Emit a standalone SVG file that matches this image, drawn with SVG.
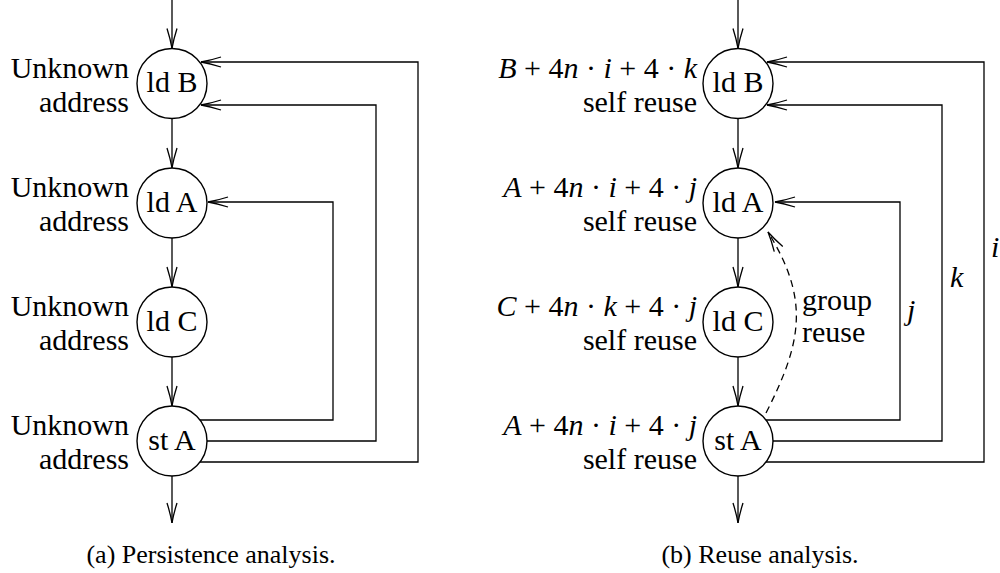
<svg xmlns="http://www.w3.org/2000/svg" width="1000" height="573" viewBox="0 0 1000 573" font-family="'Liberation Serif', 'Times New Roman', serif">
<style>
text{font-family:"Liberation Serif","Times New Roman",serif;fill:#000}
.lbl{font-size:30px;text-anchor:end}
.nt{font-size:30px;text-anchor:middle}
.tx{font-size:30px}
.cap{font-size:26px;text-anchor:middle}
.m{font-style:italic}
.node circle{fill:#fff;stroke:#000;stroke-width:1.4}
.conn path{fill:none;stroke:#000;stroke-width:1.3}
.conn .dash{stroke-dasharray:7 5}
</style>
<defs>
<marker id="arr" viewBox="0 0 22 12" refX="21" refY="6" markerWidth="22" markerHeight="12" markerUnits="userSpaceOnUse" orient="auto">
<path d="M1,1 Q12,4.5 21,6 Q12,7.5 1,11" fill="none" stroke="#000" stroke-width="1.3"/>
</marker>
</defs>
<rect width="1000" height="573" fill="#fff"/>
<g id="connectors" class="conn">
<path d="M172,0 V48.5" marker-end="url(#arr)"/>
<path d="M172,118.5 V168" marker-end="url(#arr)"/>
<path d="M172,238 V287" marker-end="url(#arr)"/>
<path d="M172,357 V406" marker-end="url(#arr)"/>
<path d="M172,476 V523" marker-end="url(#arr)"/>
<path d="M200,420 H333 V202 H208" marker-end="url(#arr)"/>
<path d="M207,441 H376 V105 H201" marker-end="url(#arr)"/>
<path d="M200,462 H418 V62 H201" marker-end="url(#arr)"/>
<path d="M738,0 V48.5" marker-end="url(#arr)"/>
<path d="M738,118.5 V168" marker-end="url(#arr)"/>
<path d="M738,238 V287" marker-end="url(#arr)"/>
<path d="M738,357 V406" marker-end="url(#arr)"/>
<path d="M738,476 V523" marker-end="url(#arr)"/>
<path d="M766,420 H900 V202 H775" marker-end="url(#arr)"/>
<path d="M773,441 H942 V105 H767" marker-end="url(#arr)"/>
<path d="M766,462 H984 V62 H767" marker-end="url(#arr)"/>
<path class="dash" d="M766,413 C802,342 810,300 768,232" marker-end="url(#arr)"/>
<text class="tx m" x="907" y="320">j</text>
<text class="tx m" x="950" y="287">k</text>
<text class="tx m" x="991" y="257">i</text>
<text class="tx" x="802" y="310">group</text>
<text class="tx" x="802" y="342">reuse</text>
</g>
<g id="a_ldB" class="node"><circle cx="172" cy="83.5" r="35"/><text class="nt" x="172" y="92">ld B</text>
<text class="lbl" x="129" y="77.5">Unknown</text><text class="lbl" x="129" y="111.5">address</text></g>
<g id="a_ldA" class="node"><circle cx="172" cy="203" r="35"/><text class="nt" x="172" y="211.5">ld A</text>
<text class="lbl" x="129" y="197">Unknown</text><text class="lbl" x="129" y="231">address</text></g>
<g id="a_ldC" class="node"><circle cx="172" cy="322" r="35"/><text class="nt" x="172" y="330.5">ld C</text>
<text class="lbl" x="129" y="316">Unknown</text><text class="lbl" x="129" y="350">address</text></g>
<g id="a_stA" class="node"><circle cx="172" cy="441" r="35"/><text class="nt" x="172" y="449.5">st A</text>
<text class="lbl" x="129" y="435">Unknown</text><text class="lbl" x="129" y="469">address</text></g>
<g id="b_ldB" class="node"><circle cx="738" cy="83.5" r="35"/><text class="nt" x="738" y="92">ld B</text>
<text class="lbl" x="697" y="77.5"><tspan class="m">B</tspan> + 4<tspan class="m">n</tspan> · <tspan class="m">i</tspan> + 4 · <tspan class="m">k</tspan></text><text class="lbl" x="697" y="111.5">self reuse</text></g>
<g id="b_ldA" class="node"><circle cx="738" cy="203" r="35"/><text class="nt" x="738" y="211.5">ld A</text>
<text class="lbl" x="697" y="197"><tspan class="m">A</tspan> + 4<tspan class="m">n</tspan> · <tspan class="m">i</tspan> + 4 · <tspan class="m">j</tspan></text><text class="lbl" x="697" y="231">self reuse</text></g>
<g id="b_ldC" class="node"><circle cx="738" cy="322" r="35"/><text class="nt" x="738" y="330.5">ld C</text>
<text class="lbl" x="697" y="316"><tspan class="m">C</tspan> + 4<tspan class="m">n</tspan> · <tspan class="m">k</tspan> + 4 · <tspan class="m">j</tspan></text><text class="lbl" x="697" y="350">self reuse</text></g>
<g id="b_stA" class="node"><circle cx="738" cy="441" r="35"/><text class="nt" x="738" y="449.5">st A</text>
<text class="lbl" x="697" y="435"><tspan class="m">A</tspan> + 4<tspan class="m">n</tspan> · <tspan class="m">i</tspan> + 4 · <tspan class="m">j</tspan></text><text class="lbl" x="697" y="469">self reuse</text></g>
<text class="cap" x="211" y="563">(a) Persistence analysis.</text>
<text class="cap" x="760" y="563">(b) Reuse analysis.</text>
</svg>
